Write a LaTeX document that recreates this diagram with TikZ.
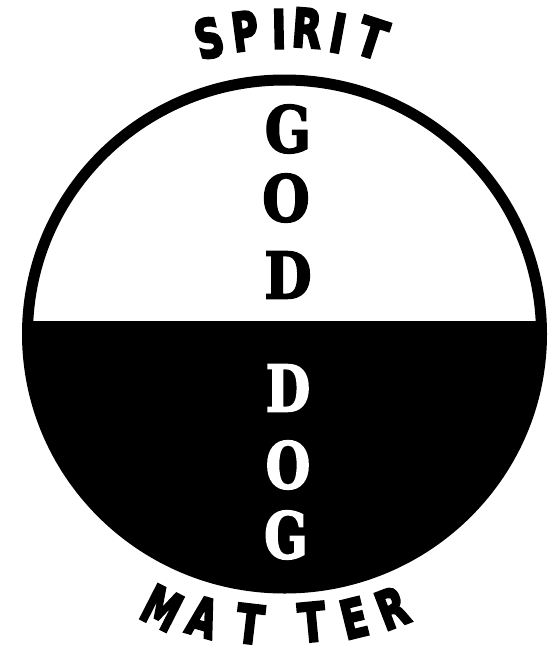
\documentclass[tikz,border=0pt]{standalone}
\usepackage{fontspec}
\newfontfamily\labfont[BoldFeatures={FakeBold=5}]{DejaVu Sans}
\newfontfamily\godfont[BoldFeatures={FakeBold=3}]{DejaVu Serif}
\tikzset{
  arcletter/.style={inner sep=0pt, font=\labfont\bfseries\fontsize{53}{58}\selectfont},
  godletter/.style={inner sep=0pt, font=\godfont\bfseries\fontsize{64}{70}\selectfont},
}
\begin{document}
\begin{tikzpicture}[x=1pt,y=-1pt]
\useasboundingbox (0,0) rectangle (547,651);
\fill[white] (0,0) rectangle (547,651);
% lower (matter) half
\begin{scope}
  \clip (284.5,334) ellipse [x radius=257, y radius=254];
  \fill[black] (0,322) rectangle (547,651);
\end{scope}
\draw[line width=11pt] (284.5,334) ellipse [x radius=257, y radius=254];
\draw[line width=2pt] (30,322) -- (540,322);
% SPIRIT
\node[arcletter, rotate=14,   xscale=.72] (s1) at (209,38) {S};
\node[arcletter, rotate=7.4,  xscale=.68] (s2) at (245,31) {P};
\node[arcletter, rotate=1,    xscale=.75] (s3) at (279,29) {I};
\node[arcletter, rotate=-4.3, xscale=.72] (s4) at (307,28) {R};
\node[arcletter, rotate=-10.4,xscale=.75] (s5) at (338,33) {I};
\node[arcletter, rotate=-18,  xscale=.78] (s6) at (372,38) {T};
% MATTER
\node[arcletter, rotate=-27,  xscale=.68] (m1) at (162,608) {M};
\node[arcletter, rotate=-16,  xscale=.7]  (m2) at (203,617) {A};
\node[arcletter, rotate=-6.6, xscale=.75] (m3) at (250,624) {T};
\node[arcletter, rotate=5.4,  xscale=.75] (m4) at (312,622) {T};
\node[arcletter, rotate=13.8, xscale=.72] (m5) at (354,618) {E};
\node[arcletter, rotate=21,   xscale=.72] (m6) at (392,608) {R};
% GOD
\node[godletter, xscale=.85] (g1) at (288,129) {G};
\node[godletter, xscale=.85] (g2) at (286,198) {O};
\node[godletter, xscale=.85] (g3) at (288,275) {D};
% DOG
\node[godletter, xscale=.8, text=white] (d1) at (288,388) {D};
\node[godletter, xscale=.8, text=white] (d2) at (288,465) {O};
\node[godletter, xscale=.8, text=white] (d3) at (286,535) {G};
\end{tikzpicture}
\end{document}
